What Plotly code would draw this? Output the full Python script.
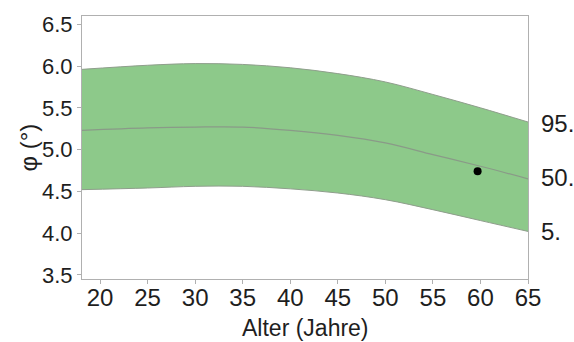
import plotly.graph_objects as go

ages = [18, 25, 30, 35, 40, 45, 50, 55, 60, 65]
p95 = [5.96, 6.01, 6.03, 6.02, 5.98, 5.91, 5.81, 5.66, 5.50, 5.33]
p50 = [5.23, 5.26, 5.27, 5.27, 5.23, 5.17, 5.08, 4.94, 4.80, 4.65]
p5 = [4.52, 4.54, 4.56, 4.56, 4.53, 4.48, 4.40, 4.28, 4.15, 4.02]
patient_age = [59.7]
patient_val = [4.74]
pct_labels = ["95.", "50.", "5."]
pct_label_y = [5.31, 4.66, 4.02]
x_ticks = [20, 25, 30, 35, 40, 45, 50, 55, 60, 65]
y_ticks = [3.5, 4.0, 4.5, 5.0, 5.5, 6.0, 6.5]

font = "Liberation Sans, Arial, sans-serif"
txt = "#1e1e1e"
edge = "#8f9e8c"

fig = go.Figure()
fig.add_trace(go.Scatter(x=ages, y=p95, mode="lines", line=dict(color=edge, width=1, shape="spline"),
                         showlegend=False, hoverinfo="skip"))
fig.add_trace(go.Scatter(x=ages, y=p5, mode="lines", line=dict(color=edge, width=1, shape="spline"),
                         fill="tonexty", fillcolor="#8dc98a", showlegend=False, hoverinfo="skip"))
fig.add_trace(go.Scatter(x=ages, y=p50, mode="lines", line=dict(color="#8a9a88", width=1.2, shape="spline"),
                         showlegend=False))
fig.add_trace(go.Scatter(x=patient_age, y=patient_val, mode="markers",
                         marker=dict(color="black", size=8), showlegend=False))

for t, yv in zip(pct_labels, pct_label_y):
    fig.add_annotation(x=1.025, xref="paper", y=yv, yref="y", text=t, showarrow=False,
                       xanchor="left", yanchor="middle", font=dict(size=24, color=txt, family=font))

# axis titles
fig.add_annotation(x=0.5, xref="paper", y=0, yref="paper", yshift=-49, text="Alter (Jahre)",
                   showarrow=False, xanchor="center", yanchor="middle",
                   font=dict(size=23, color=txt, family=font))
fig.add_annotation(x=0, xref="paper", y=0.5, yref="paper", xshift=-54, text="φ (°)", textangle=-90,
                   showarrow=False, xanchor="center", yanchor="middle",
                   font=dict(size=24, color=txt, family=font))

axis_common = dict(showline=True, linecolor="#b0b0b0", linewidth=1, mirror=True,
                   ticks="outside", ticklen=4, tickcolor="#b0b0b0", showgrid=False, zeroline=False,
                   automargin=False)

fig.update_xaxes(range=[18.1, 65], tickvals=x_ticks, ticklabelstandoff=-7,
                 tickfont=dict(size=24, color=txt, family=font), **axis_common)
fig.update_yaxes(range=[3.45, 6.6], tickvals=y_ticks, tickformat=".1f",
                 tickfont=dict(size=22, color=txt, family=font), **axis_common)

fig.update_layout(width=574, height=342, margin=dict(l=82, r=46, t=16, b=63),
                  plot_bgcolor="white", paper_bgcolor="white")

# remove the default 8px page margin so the figure fills the window exactly
fig.write_html("out.html", config={"displayModeBar": False},
               post_script="document.body.style.margin='0';document.body.style.overflow='hidden';")
